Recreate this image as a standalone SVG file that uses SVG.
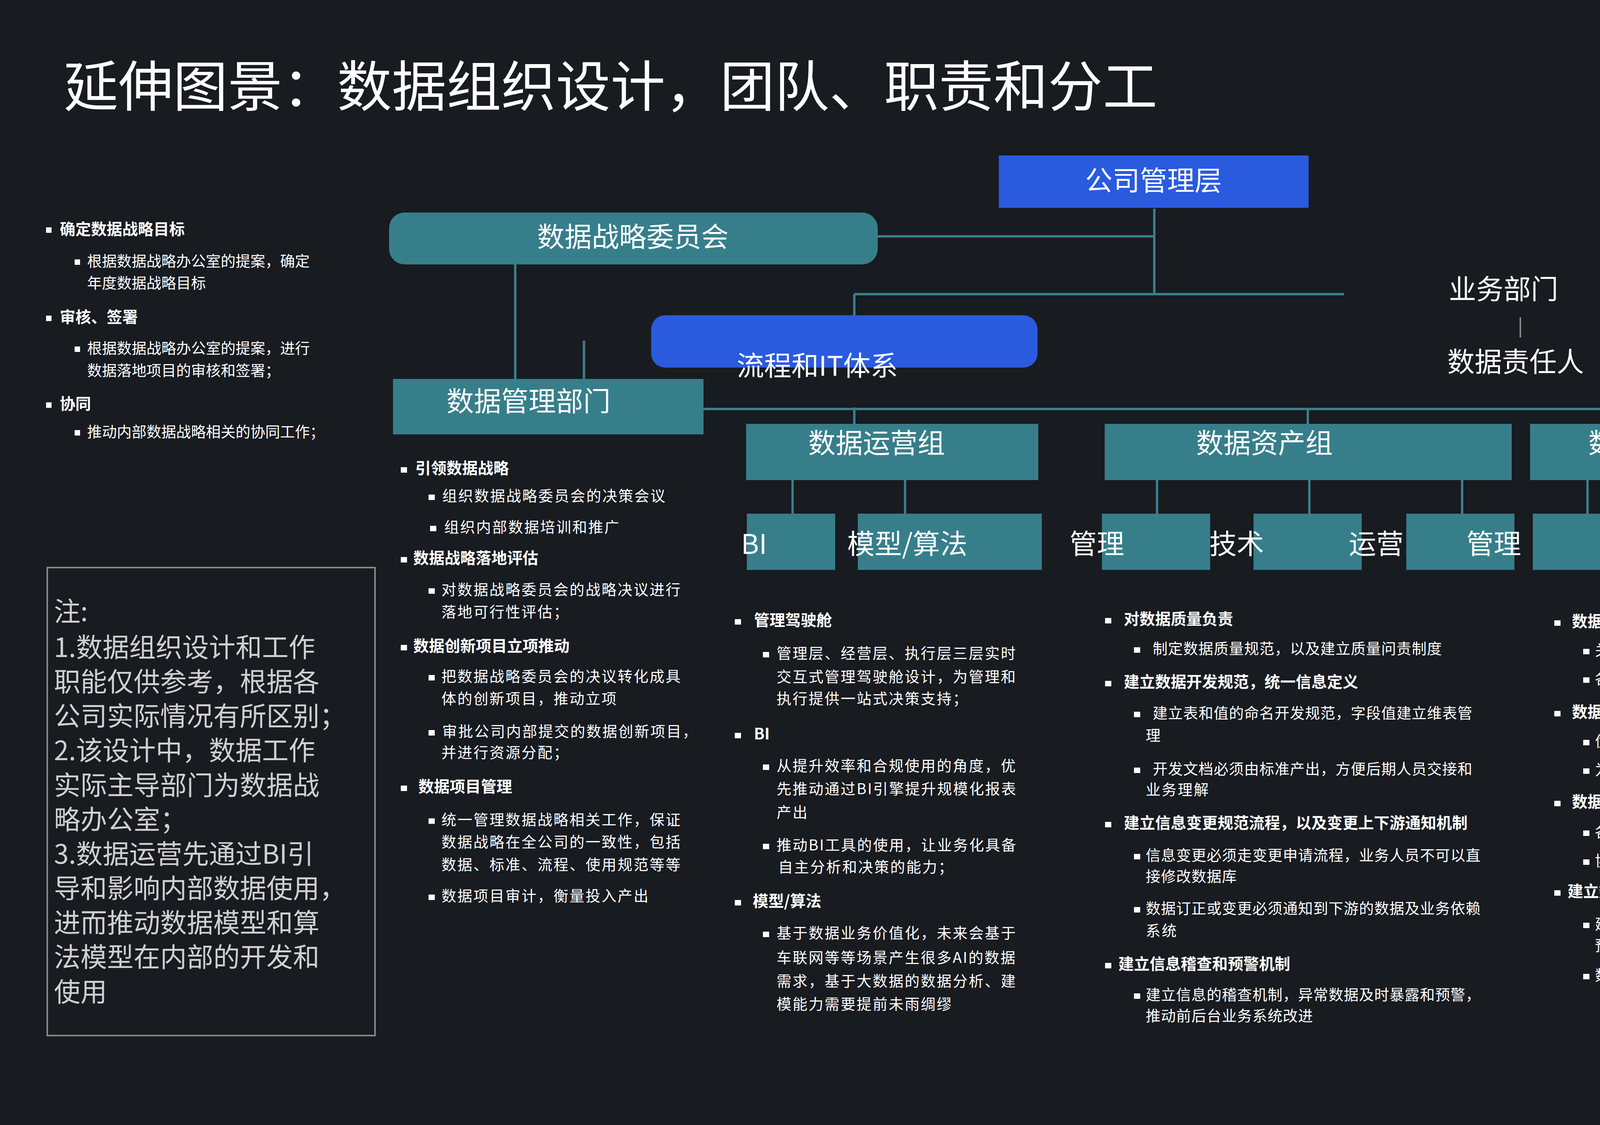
<svg xmlns="http://www.w3.org/2000/svg" width="5120" height="2880" viewBox="0 0 5120 2880" preserveAspectRatio="xMinYMin meet">
<style>
text{font-family:"Noto Sans CJK SC","Liberation Sans",sans-serif;fill:#fff}
.t{fill:#377E8B}.b{fill:#2A5BDF}
.ln{stroke:#3B7F8C;stroke-width:6;fill:none}
.n{font-size:70px}
.h{font-size:40px;font-weight:bold}
.s{font-size:38px;letter-spacing:3px}
.bl{fill:#fff}
.nt{font-size:68px;fill:#d0d0d0}
</style>
<rect width="5120" height="2880" fill="#181B20"/>
<text x="163" y="272" font-size="140">延伸图景：数据组织设计，团队、职责和分工</text>
<g id="connectors">
<path class="ln" d="M2247 605H2955M2955 534V753M2187 753H3441M2187 753V807M1319 676V970M1495 872V970M1801 1047H4479M2187 1043V1085M3348 1047V1085M4479 1047V1085M2029 1229V1315M2317 1229V1315M2962 1229V1315M3352 1229V1315M3743 1229V1315M4064 1229V1315M4455 1229V1315M4843 1229V1315"/>
<path d="M3892 812V864" stroke="#888" stroke-width="4"/>
</g>
<g id="n-gs"><rect class="b" x="2557" y="398" width="793" height="134"/><text class="n" x="2953" y="488" text-anchor="middle">公司管理层</text></g>
<g id="n-new"><rect class="t" x="4404" y="389" width="598" height="145"/><text class="n" x="4703" y="472" text-anchor="middle">新设数据组织</text></g>
<g id="n-wyh"><rect class="t" x="996" y="544" width="1251" height="133" rx="40"/><text class="n" x="1620" y="632" text-anchor="middle">数据战略委员会</text></g>
<g id="n-it"><rect class="b" x="1667" y="807" width="989" height="134" rx="36"/><text class="n" x="1886" y="962">流程和IT体系</text></g>
<g id="n-yw"><text class="n" x="3709" y="766">业务部门</text><text class="n" x="3705" y="952">数据责任人</text></g>
<g id="n-gl"><rect class="t" x="1006" y="970" width="795" height="142"/><text class="n" x="1143" y="1053">数据管理部门</text></g>
<g id="n-yy"><rect class="t" x="1910" y="1085" width="748" height="144"/><text class="n" x="2069" y="1160">数据运营组</text></g>
<g id="n-zc"><rect class="t" x="2828" y="1085" width="1042" height="144"/><text class="n" x="3062" y="1160">数据资产组</text></g>
<g id="n-aq"><rect class="t" x="3917" y="1085" width="1069" height="144"/><text class="n" x="4066" y="1160">数据安全组</text></g>
<g id="n-bi"><rect class="t" x="1912" y="1315" width="226" height="144"/><text class="n" x="1897" y="1418">BI</text></g>
<g id="n-mx"><rect class="t" x="2196" y="1315" width="471" height="144"/><text class="n" x="2169" y="1418">模型/算法</text></g>
<g id="n-zc1"><rect class="t" x="2821" y="1315" width="277" height="144"/><text class="n" x="2738" y="1418">管理</text></g>
<g id="n-zc2"><rect class="t" x="3209" y="1315" width="277" height="144"/><text class="n" x="3096" y="1418">技术</text></g>
<g id="n-zc3"><rect class="t" x="3600" y="1315" width="277" height="144"/><text class="n" x="3453" y="1418">运营</text><text class="n" x="3754" y="1418">管理</text></g>
<g id="n-aq1"><rect class="t" x="3924" y="1315" width="276" height="144"/><text class="n" x="4111" y="1418">技术</text></g>
<g id="n-aq2"><rect class="t" x="4312" y="1315" width="277" height="144"/></g>
<g id="n-aq3"><rect class="t" x="4703" y="1315" width="276" height="144"/><text class="n" x="4765" y="1406">运营</text></g>
<g id="note"><rect x="121" y="1453" width="839" height="1198" fill="none" stroke="#888" stroke-width="4"/>
<text class="nt" x="138" y="1590">注:</text>
<text class="nt" x="138" y="1682">1.数据组织设计和工作</text>
<text class="nt" x="138" y="1770">职能仅供参考，根据各</text>
<text class="nt" x="138" y="1858">公司实际情况有所区别；</text>
<text class="nt" x="138" y="1946">2.该设计中，数据工作</text>
<text class="nt" x="138" y="2035">实际主导部门为数据战</text>
<text class="nt" x="138" y="2123">略办公室；</text>
<text class="nt" x="138" y="2211">3.数据运营先通过BI引</text>
<text class="nt" x="138" y="2299">导和影响内部数据使用，</text>
<text class="nt" x="138" y="2387">进而推动数据模型和算</text>
<text class="nt" x="138" y="2475">法模型在内部的开发和</text>
<text class="nt" x="138" y="2564">使用</text>
</g>
<g id="list-left">
<rect class="bl" x="118" y="582" width="14" height="14"/><text class="h" x="153" y="601">确定数据战略目标</text>
<rect class="bl" x="191" y="664" width="14" height="14"/><text class="s" x="223" y="682" style="letter-spacing:0">根据数据战略办公室的提案，确定</text><text class="s" x="223" y="738" style="letter-spacing:0">年度数据战略目标</text>
<rect class="bl" x="118" y="808" width="14" height="14"/><text class="h" x="153" y="826">审核、签署</text>
<rect class="bl" x="191" y="887" width="14" height="14"/><text class="s" x="223" y="905" style="letter-spacing:0">根据数据战略办公室的提案，进行</text><text class="s" x="223" y="962" style="letter-spacing:0">数据落地项目的审核和签署；</text>
<rect class="bl" x="118" y="1030" width="14" height="14"/><text class="h" x="153" y="1048">协同</text>
<rect class="bl" x="191" y="1101" width="14" height="14"/><text class="s" x="223" y="1119" style="letter-spacing:0">推动内部数据战略相关的协同工作；</text>
</g>
<g id="list-gl">
<rect class="bl" x="1026" y="1196" width="16" height="14"/><text class="h" x="1063" y="1213">引领数据战略</text>
<rect class="bl" x="1097" y="1266" width="16" height="14"/><text class="s" x="1132" y="1283">组织数据战略委员会的决策会议</text>
<rect class="bl" x="1101" y="1346" width="16" height="14"/><text class="s" x="1137" y="1363">组织内部数据培训和推广</text>
<rect class="bl" x="1026" y="1426" width="16" height="14"/><text class="h" x="1058" y="1443">数据战略落地评估</text>
<rect class="bl" x="1097" y="1506" width="16" height="14"/><text class="s" x="1130" y="1523">对数据战略委员会的战略决议进行</text><text class="s" x="1130" y="1580">落地可行性评估；</text>
<rect class="bl" x="1026" y="1651" width="16" height="14"/><text class="h" x="1058" y="1668">数据创新项目立项推动</text>
<rect class="bl" x="1097" y="1728" width="16" height="14"/><text class="s" x="1130" y="1745">把数据战略委员会的决议转化成具</text><text class="s" x="1130" y="1802">体的创新项目，推动立项</text>
<rect class="bl" x="1097" y="1869" width="16" height="14"/><text class="s" x="1132" y="1886">审批公司内部提交的数据创新项目，</text><text class="s" x="1130" y="1940">并进行资源分配；</text>
<rect class="bl" x="1026" y="2011" width="16" height="14"/><text class="h" x="1071" y="2028">数据项目管理</text>
<rect class="bl" x="1097" y="2095" width="16" height="14"/><text class="s" x="1130" y="2112">统一管理数据战略相关工作，保证</text><text class="s" x="1130" y="2169">数据战略在全公司的一致性，包括</text><text class="s" x="1130" y="2227">数据、标准、流程、使用规范等等</text>
<rect class="bl" x="1097" y="2290" width="16" height="14"/><text class="s" x="1130" y="2307">数据项目审计，衡量投入产出</text>
</g>
<g id="list-yy">
<rect class="bl" x="1881" y="1585" width="16" height="14"/><text class="h" x="1930" y="1602">管理驾驶舱</text>
<rect class="bl" x="1953" y="1669" width="16" height="14"/><text class="s" x="1988" y="1686">管理层、经营层、执行层三层实时</text><text class="s" x="1988" y="1746">交互式管理驾驶舱设计，为管理和</text><text class="s" x="1988" y="1802">执行提供一站式决策支持；</text>
<rect class="bl" x="1881" y="1876" width="16" height="14"/><text class="h" x="1930" y="1893">BI</text>
<rect class="bl" x="1953" y="1957" width="16" height="14"/><text class="s" x="1988" y="1974">从提升效率和合规使用的角度，优</text><text class="s" x="1988" y="2033">先推动通过BI引擎提升规模化报表</text><text class="s" x="1988" y="2093">产出</text>
<rect class="bl" x="1953" y="2160" width="16" height="14"/><text class="s" x="1988" y="2177">推动BI工具的使用，让业务化具备</text><text class="s" x="1992" y="2233">自主分析和决策的能力；</text>
<rect class="bl" x="1881" y="2304" width="16" height="14"/><text class="h" x="1927" y="2321">模型/算法</text>
<rect class="bl" x="1953" y="2385" width="16" height="14"/><text class="s" x="1988" y="2402">基于数据业务价值化，未来会基于</text><text class="s" x="1988" y="2465">车联网等等场景产生很多AI的数据</text><text class="s" x="1988" y="2525">需求，基于大数据的数据分析、建</text><text class="s" x="1988" y="2584">模能力需要提前未雨绸缪</text>
</g>
<g id="list-zc">
<rect class="bl" x="2829" y="1582" width="16" height="14"/><text class="h" x="2877" y="1599">对数据质量负责</text>
<rect class="bl" x="2903" y="1657" width="16" height="14"/><text class="s" x="2951" y="1674" style="letter-spacing:1px">制定数据质量规范，以及建立质量问责制度</text>
<rect class="bl" x="2829" y="1743" width="16" height="14"/><text class="h" x="2877" y="1760">建立数据开发规范，统一信息定义</text>
<rect class="bl" x="2903" y="1822" width="16" height="14"/><text class="s" x="2951" y="1839" style="letter-spacing:1px">建立表和值的命名开发规范，字段值建立维表管</text><text class="s" x="2933" y="1896">理</text>
<rect class="bl" x="2903" y="1965" width="16" height="14"/><text class="s" x="2951" y="1982" style="letter-spacing:1px">开发文档必须由标准产出，方便后期人员交接和</text><text class="s" x="2933" y="2035">业务理解</text>
<rect class="bl" x="2829" y="2104" width="16" height="14"/><text class="h" x="2877" y="2121">建立信息变更规范流程，以及变更上下游通知机制</text>
<rect class="bl" x="2903" y="2186" width="16" height="14"/><text class="s" x="2933" y="2203" style="letter-spacing:1px">信息变更必须走变更申请流程，业务人员不可以直</text><text class="s" x="2933" y="2257" style="letter-spacing:1px">接修改数据库</text>
<rect class="bl" x="2903" y="2322" width="16" height="14"/><text class="s" x="2933" y="2339" style="letter-spacing:1px">数据订正或变更必须通知到下游的数据及业务依赖</text><text class="s" x="2933" y="2396">系统</text>
<rect class="bl" x="2829" y="2465" width="16" height="14"/><text class="h" x="2863" y="2482">建立信息稽查和预警机制</text>
<rect class="bl" x="2903" y="2543" width="16" height="14"/><text class="s" x="2933" y="2560" style="letter-spacing:1px">建立信息的稽查机制，异常数据及时暴露和预警，</text><text class="s" x="2933" y="2614" style="letter-spacing:1px">推动前后台业务系统改进</text>
</g>
<g id="list-aq">
<rect class="bl" x="3979" y="1588" width="16" height="14"/><text class="h" x="4024" y="1605">数据安全管理</text>
<rect class="bl" x="4053" y="1661" width="16" height="14"/><text class="s" x="4083" y="1678" style="letter-spacing:0">关注集团层面的数据安全策略制定和推动，</text>
<rect class="bl" x="4053" y="1734" width="16" height="14"/><text class="s" x="4083" y="1751" style="letter-spacing:0">各个部门之间经验互通共享；</text>
<rect class="bl" x="3979" y="1820" width="16" height="14"/><text class="h" x="4024" y="1837">数据安全技术</text>
<rect class="bl" x="4053" y="1894" width="16" height="14"/><text class="s" x="4083" y="1911" style="letter-spacing:0">优先推动各个部门之间安全数据打通，</text>
<rect class="bl" x="4053" y="1967" width="16" height="14"/><text class="s" x="4083" y="1984" style="letter-spacing:0">为各部门数据安全提供技术上的支持；</text>
<rect class="bl" x="3979" y="2050" width="16" height="14"/><text class="h" x="4024" y="2067">数据安全运营</text>
<rect class="bl" x="4053" y="2126" width="16" height="14"/><text class="s" x="4083" y="2143" style="letter-spacing:0">各个部门内部能够解决尽量在BU内部解决，</text>
<rect class="bl" x="4053" y="2200" width="16" height="14"/><text class="s" x="4083" y="2217" style="letter-spacing:0">协助数据安全进行数据安全的审计和监控；</text>
<rect class="bl" x="3979" y="2279" width="16" height="14"/><text class="h" x="4013" y="2296">建立数据安全稽查和预警机制</text>
<rect class="bl" x="4053" y="2362" width="16" height="14"/><text class="s" x="4083" y="2379" style="letter-spacing:1px">建立数据安全的稽查机制，异常数据及时暴露和</text><text class="s" x="4083" y="2434" style="letter-spacing:1px">预警，推动前后台业务系统改进</text>
<rect class="bl" x="4053" y="2493" width="16" height="14"/><text class="s" x="4083" y="2510" style="letter-spacing:0">数据安全包括数据和信息安全等</text>
</g>
</svg>
